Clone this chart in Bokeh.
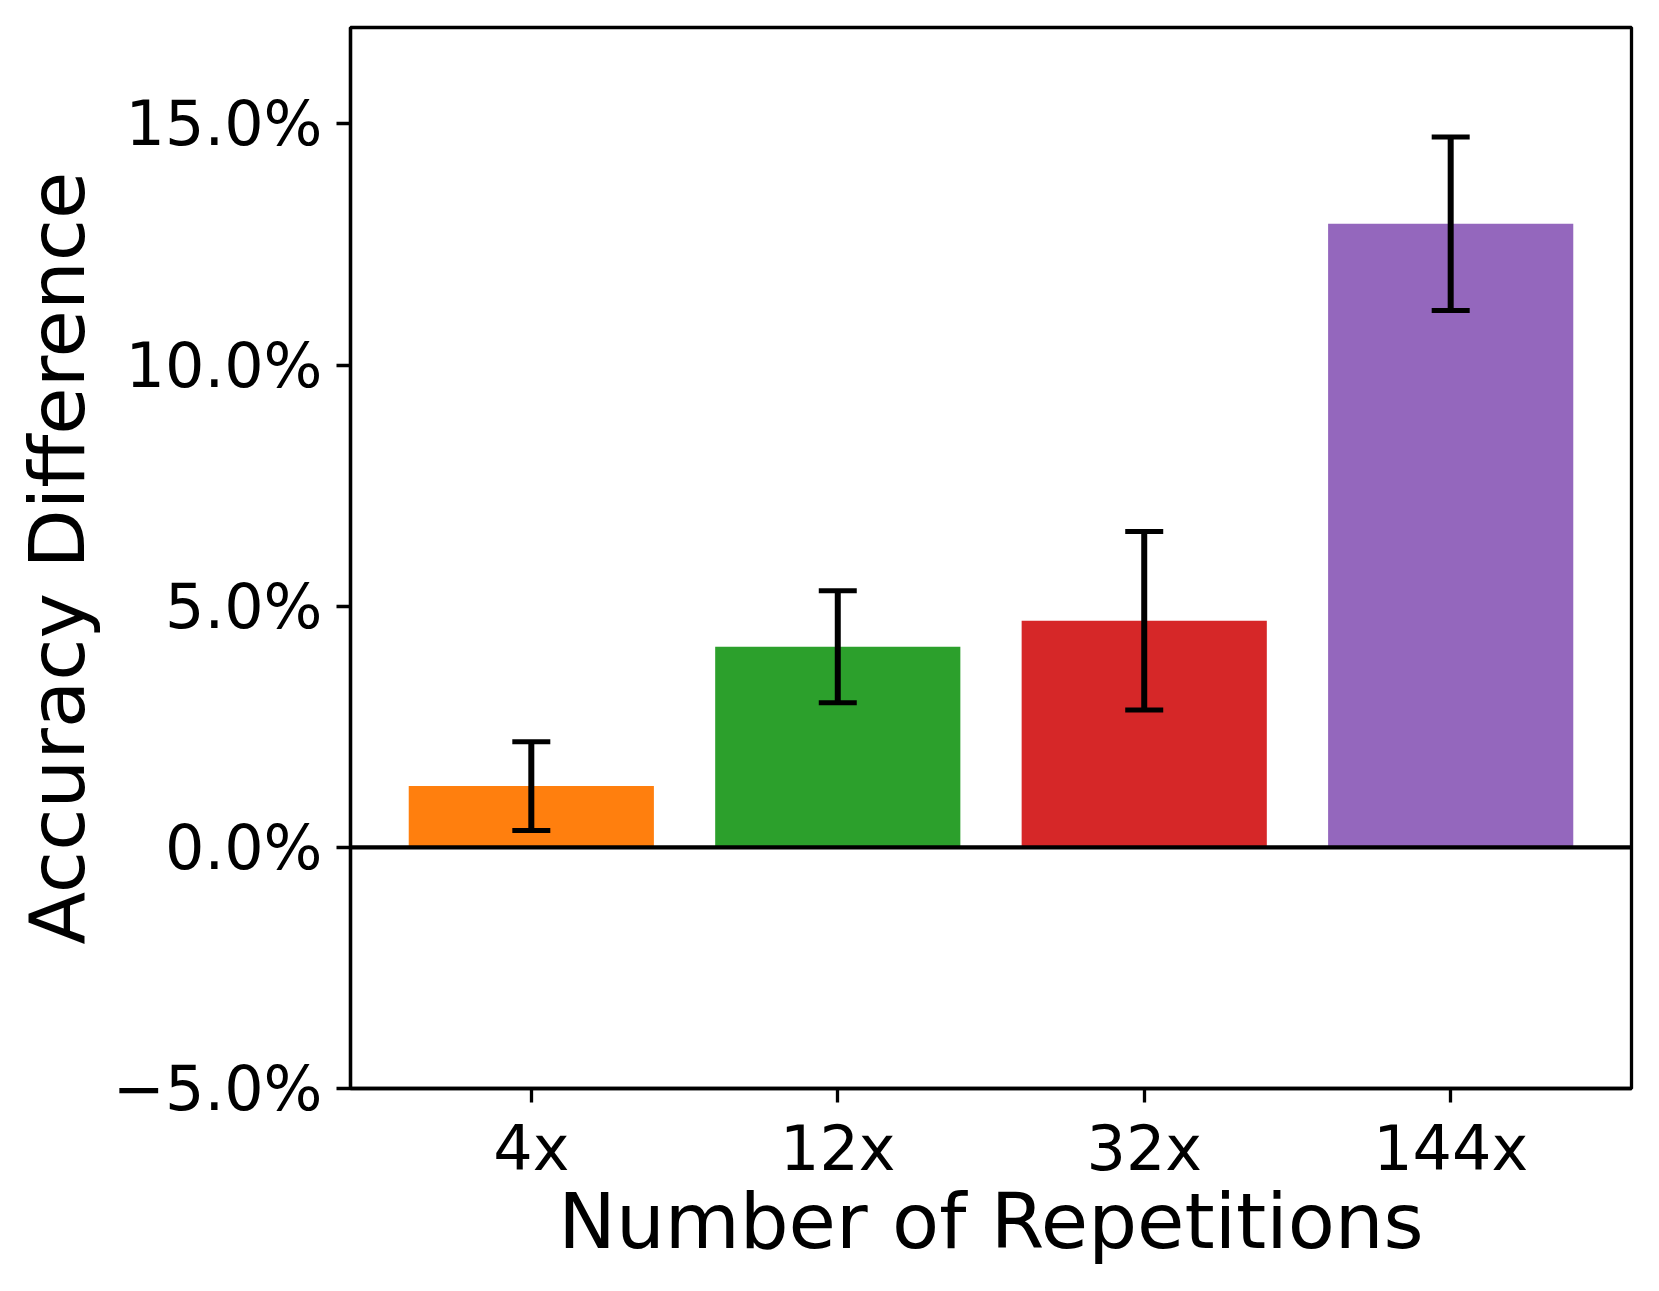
from bokeh.plotting import figure
from bokeh.models import ColumnDataSource, Range1d, FixedTicker, Whisker, TeeHead, Span
from bokeh.embed import file_html
from bokeh.resources import INLINE

# ---- data ----
categories = ["4x", "12x", "32x", "144x"]
accuracy_diff = [1.27, 4.16, 4.70, 12.93]   # percent
error = [0.92, 1.16, 1.85, 1.80]            # percent
bar_colors = ["#ff7f0e", "#2ca02c", "#d62728", "#9467bd"]
y_tick_values = [-5, 0, 5, 10, 15]
y_tick_labels = ["\u22125.0%", "0.0%", "5.0%", "10.0%", "15.0%"]

xs = list(range(len(categories)))
src = ColumnDataSource(dict(
    x=xs, top=accuracy_diff, color=bar_colors,
    upper=[m + e for m, e in zip(accuracy_diff, error)],
    lower=[m - e for m, e in zip(accuracy_diff, error)],
))

p = figure(frame_width=1281, frame_height=1061,
           x_range=Range1d(-0.59, len(categories) - 1 + 0.59),
           y_range=Range1d(-5, 17),
           output_backend="svg", toolbar_location=None,
           min_border_left=350, min_border_top=27, min_border_right=14,
           min_border_bottom=190)

p.vbar(x="x", top="top", bottom=0, width=0.8, color="color", line_color=None, source=src)

p.add_layout(Span(location=0, dimension="width", line_color="black", line_width=4.2))

wh = Whisker(base="x", upper="upper", lower="lower", source=src,
             line_color="black", line_width=6, level="overlay",
             upper_head=TeeHead(size=38, line_color="black", line_width=5),
             lower_head=TeeHead(size=38, line_color="black", line_width=5))
p.add_layout(wh)

p.xgrid.visible = False
p.ygrid.visible = False
p.outline_line_color = "black"
p.outline_line_width = 3.3
p.outline_line_alpha = 1.0
p.background_fill_color = "white"
p.border_fill_color = "white"

p.xaxis.ticker = FixedTicker(ticks=xs)
p.xaxis.major_label_overrides = {i: c for i, c in zip(xs, categories)}
p.yaxis.ticker = FixedTicker(ticks=y_tick_values)
p.yaxis.major_label_overrides = {v: l for v, l in zip(y_tick_values, y_tick_labels)}

for ax in (p.xaxis[0], p.yaxis[0]):
    ax.axis_line_color = "black"
    ax.axis_line_width = 3.3
    ax.major_tick_line_color = "black"
    ax.major_tick_line_width = 3.3
    ax.major_tick_out = 14
    ax.major_tick_in = 0
    ax.minor_tick_line_color = None
    ax.major_label_text_font = "DejaVu Sans"
    ax.major_label_text_font_size = "62px"
    ax.major_label_text_color = "black"
    ax.axis_label_text_font = "DejaVu Sans"
    ax.axis_label_text_font_size = "77px"
    ax.axis_label_text_font_style = "normal"
    ax.axis_label_text_color = "black"

p.xaxis.axis_label = "Number of Repetitions"
p.yaxis.axis_label = "Accuracy Difference"
p.xaxis.major_label_standoff = 9
p.xaxis.axis_label_standoff = -11
p.yaxis.major_label_standoff = 14
p.yaxis.axis_label_standoff = 8

open("out.html", "w").write(file_html(p, INLINE))
